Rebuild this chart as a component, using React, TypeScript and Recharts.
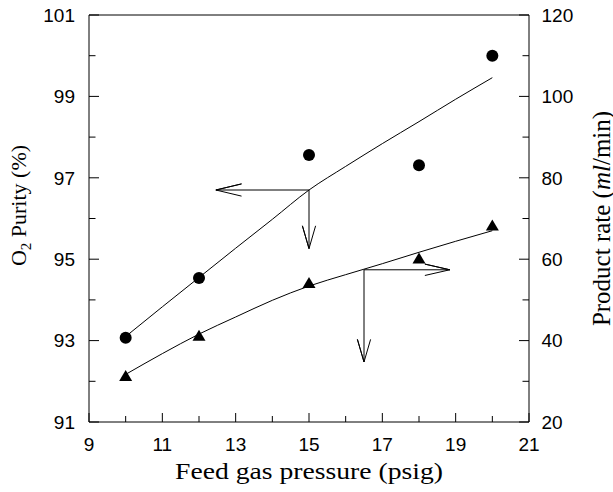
import { ComposedChart, Line, ReferenceLine, XAxis, YAxis } from "recharts";

// measured points
const pressure = [10, 12, 15, 18, 20];
const purity = [93.07, 94.54, 97.56, 97.31, 100.0];
const productRate = [31.4, 41.3, 54.3, 60.3, 68.4];

// fitted curves
const fitPressure = [10, 11, 12, 13, 14, 15, 16, 17, 18, 19, 20];
const purityFit = [93.1, 93.83, 94.55, 95.27, 95.98, 96.7, 97.28, 97.84, 98.38, 98.93, 99.46];
const rateFit = [31.7, 36.8, 41.6, 45.8, 49.9, 53.4, 56.2, 58.9, 61.7, 64.4, 67.0];

// arrows: shaft start -> tip -> arm -> tip -> arm
const purityArrowLeftX = [15, 12.46, 13.16, 12.46, 13.16];
const purityArrowLeftY = [96.7, 96.7, 96.85, 96.7, 96.55];
const purityArrowDownX = [15, 15, 14.82, 15, 15.18];
const purityArrowDownY = [96.7, 95.26, 95.82, 95.26, 95.82];
const rateArrowRightX = [16.5, 18.84, 18.16, 18.84, 18.16];
const rateArrowRightY = [57.4, 57.4, 58.8, 57.4, 56.0];
const rateArrowDownX = [16.5, 16.5, 16.32, 16.5, 16.68];
const rateArrowDownY = [57.4, 34.75, 40.3, 34.75, 40.3];

const xTicks = [9, 10, 11, 12, 13, 14, 15, 16, 17, 18, 19, 20, 21];
const leftTicks = [91, 92, 93, 94, 95, 96, 97, 98, 99, 100, 101];
const rightTicks = [20, 30, 40, 50, 60, 70, 80, 90, 100, 110, 120];

const zip = (xs: number[], ys: number[]) => xs.map((x, i) => ({ x, y: ys[i] }));

const SANS = "'Liberation Sans', Arial, sans-serif";
const SERIF = "'Liberation Serif', 'Times New Roman', serif";

const LeftTick = (p: any) => {
  const v = p.payload.value;
  const major = v % 2 === 1;
  return (
    <g>
      <line x1={p.x + 14} x2={p.x + 14 + (major ? 10 : 6.5)} y1={p.y} y2={p.y} stroke="#000" />
      {major && (
        <text x={p.x} y={p.y} dy="0.36em" textAnchor="end" fontSize={19} fontFamily={SANS} fill="#000">
          {v}
        </text>
      )}
    </g>
  );
};

const RightTick = (p: any) => {
  const v = p.payload.value;
  const major = v % 20 === 0;
  return (
    <g>
      <line x1={p.x - 12.5} x2={p.x - 12.5 - (major ? 10 : 6.5)} y1={p.y} y2={p.y} stroke="#000" />
      {major && (
        <text x={p.x} y={p.y} dy="0.36em" textAnchor="start" fontSize={19} fontFamily={SANS} fill="#000">
          {v}
        </text>
      )}
    </g>
  );
};

const BottomTick = (p: any) => {
  const v = p.payload.value;
  const major = v % 2 === 1;
  return (
    <g>
      <line x1={p.x} x2={p.x} y1={p.y - 29} y2={p.y - 29 - (major ? 9 : 6)} stroke="#000" />
      {major && (
        <text x={p.x} y={p.y} textAnchor="middle" fontSize={19} fontFamily={SANS} fill="#000">
          {v}
        </text>
      )}
    </g>
  );
};

const XTitle = (p: any) => {
  const vb = p.viewBox;
  return (
    <text
      x={vb.x + vb.width / 2}
      y={vb.y + 57}
      textAnchor="middle"
      fontSize={23}
      fontFamily={SERIF}
      fill="#000"
      textLength={268}
      lengthAdjust="spacingAndGlyphs"
    >
      Feed gas pressure (psig)
    </text>
  );
};

const LeftTitle = (p: any) => {
  const vb = p.viewBox;
  const cx = vb.x + 25.5;
  const cy = vb.y + vb.height / 2 - 13;
  return (
    <text transform={`translate(${cx},${cy}) rotate(-90)`} textAnchor="middle" fontSize={22} fontFamily={SERIF} fill="#000">
      O<tspan fontSize={15} dy={5}>2</tspan>
      <tspan dy={-5}> Purity (%)</tspan>
    </text>
  );
};

const RightTitle = (p: any) => {
  const vb = p.viewBox;
  const cx = vb.x + 80.5;
  const cy = vb.y + vb.height / 2;
  return (
    <text transform={`translate(${cx},${cy}) rotate(-90)`} textAnchor="middle" fontSize={25} fontFamily={SERIF} fill="#000">
      Product rate (<tspan fontStyle="italic">ml</tspan>/min)
    </text>
  );
};

const CircleDot = (p: any) => <circle key={p.index} cx={p.cx} cy={p.cy} r={6} fill="#000" />;

const TriangleDot = (p: any) => (
  <path
    key={p.index}
    d={`M${p.cx},${p.cy - 5.5} L${p.cx + 6.5},${p.cy + 5.5} L${p.cx - 6.5},${p.cy + 5.5} Z`}
    fill="#000"
  />
);

export default function App() {
  const arrow = (xs: number[], ys: number[], axis: string, key: string) => (
    <Line
      key={key}
      data={zip(xs, ys)}
      dataKey="y"
      yAxisId={axis}
      type="linear"
      stroke="#000"
      strokeWidth={1}
      dot={false}
      activeDot={false}
      isAnimationActive={false}
    />
  );

  return (
    <div style={{ position: "absolute", left: 0, top: 0, width: 613, height: 492, background: "#fff" }}>
      <ComposedChart width={613} height={492} margin={{ top: 15, right: 0, bottom: 0, left: 0 }}>
        <XAxis
          type="number"
          dataKey="x"
          domain={[9, 21]}
          ticks={xTicks}
          interval={0}
          allowDataOverflow
          tickLine={false}
          tickSize={0}
          tickMargin={29}
          height={70}
          axisLine={{ stroke: "#000" }}
          tick={<BottomTick />}
          label={<XTitle />}
        />
        <YAxis
          yAxisId="left"
          orientation="left"
          type="number"
          domain={[91, 101]}
          ticks={leftTicks}
          interval={0}
          allowDataOverflow
          width={89}
          tickLine={false}
          tickSize={0}
          tickMargin={14}
          axisLine={{ stroke: "#000" }}
          tick={<LeftTick />}
          label={<LeftTitle />}
        />
        <YAxis
          yAxisId="right"
          orientation="right"
          type="number"
          domain={[20, 120]}
          ticks={rightTicks}
          interval={0}
          allowDataOverflow
          width={84}
          tickLine={false}
          tickSize={0}
          tickMargin={12.5}
          axisLine={{ stroke: "#000" }}
          tick={<RightTick />}
          label={<RightTitle />}
        />
        <ReferenceLine yAxisId="left" y={101} stroke="#000" />

        <Line
          data={zip(fitPressure, purityFit)}
          dataKey="y"
          yAxisId="left"
          type="monotone"
          stroke="#000"
          strokeWidth={1}
          dot={false}
          activeDot={false}
          isAnimationActive={false}
        />
        <Line
          data={zip(fitPressure, rateFit)}
          dataKey="y"
          yAxisId="right"
          type="monotone"
          stroke="#000"
          strokeWidth={1}
          dot={false}
          activeDot={false}
          isAnimationActive={false}
        />
        <Line
          data={zip(pressure, purity)}
          dataKey="y"
          yAxisId="left"
          stroke="none"
          dot={<CircleDot />}
          activeDot={false}
          isAnimationActive={false}
        />
        <Line
          data={zip(pressure, productRate)}
          dataKey="y"
          yAxisId="right"
          stroke="none"
          dot={<TriangleDot />}
          activeDot={false}
          isAnimationActive={false}
        />
        {arrow(purityArrowLeftX, purityArrowLeftY, "left", "a1")}
        {arrow(purityArrowDownX, purityArrowDownY, "left", "a2")}
        {arrow(rateArrowRightX, rateArrowRightY, "right", "a3")}
        {arrow(rateArrowDownX, rateArrowDownY, "right", "a4")}
      </ComposedChart>
    </div>
  );
}
